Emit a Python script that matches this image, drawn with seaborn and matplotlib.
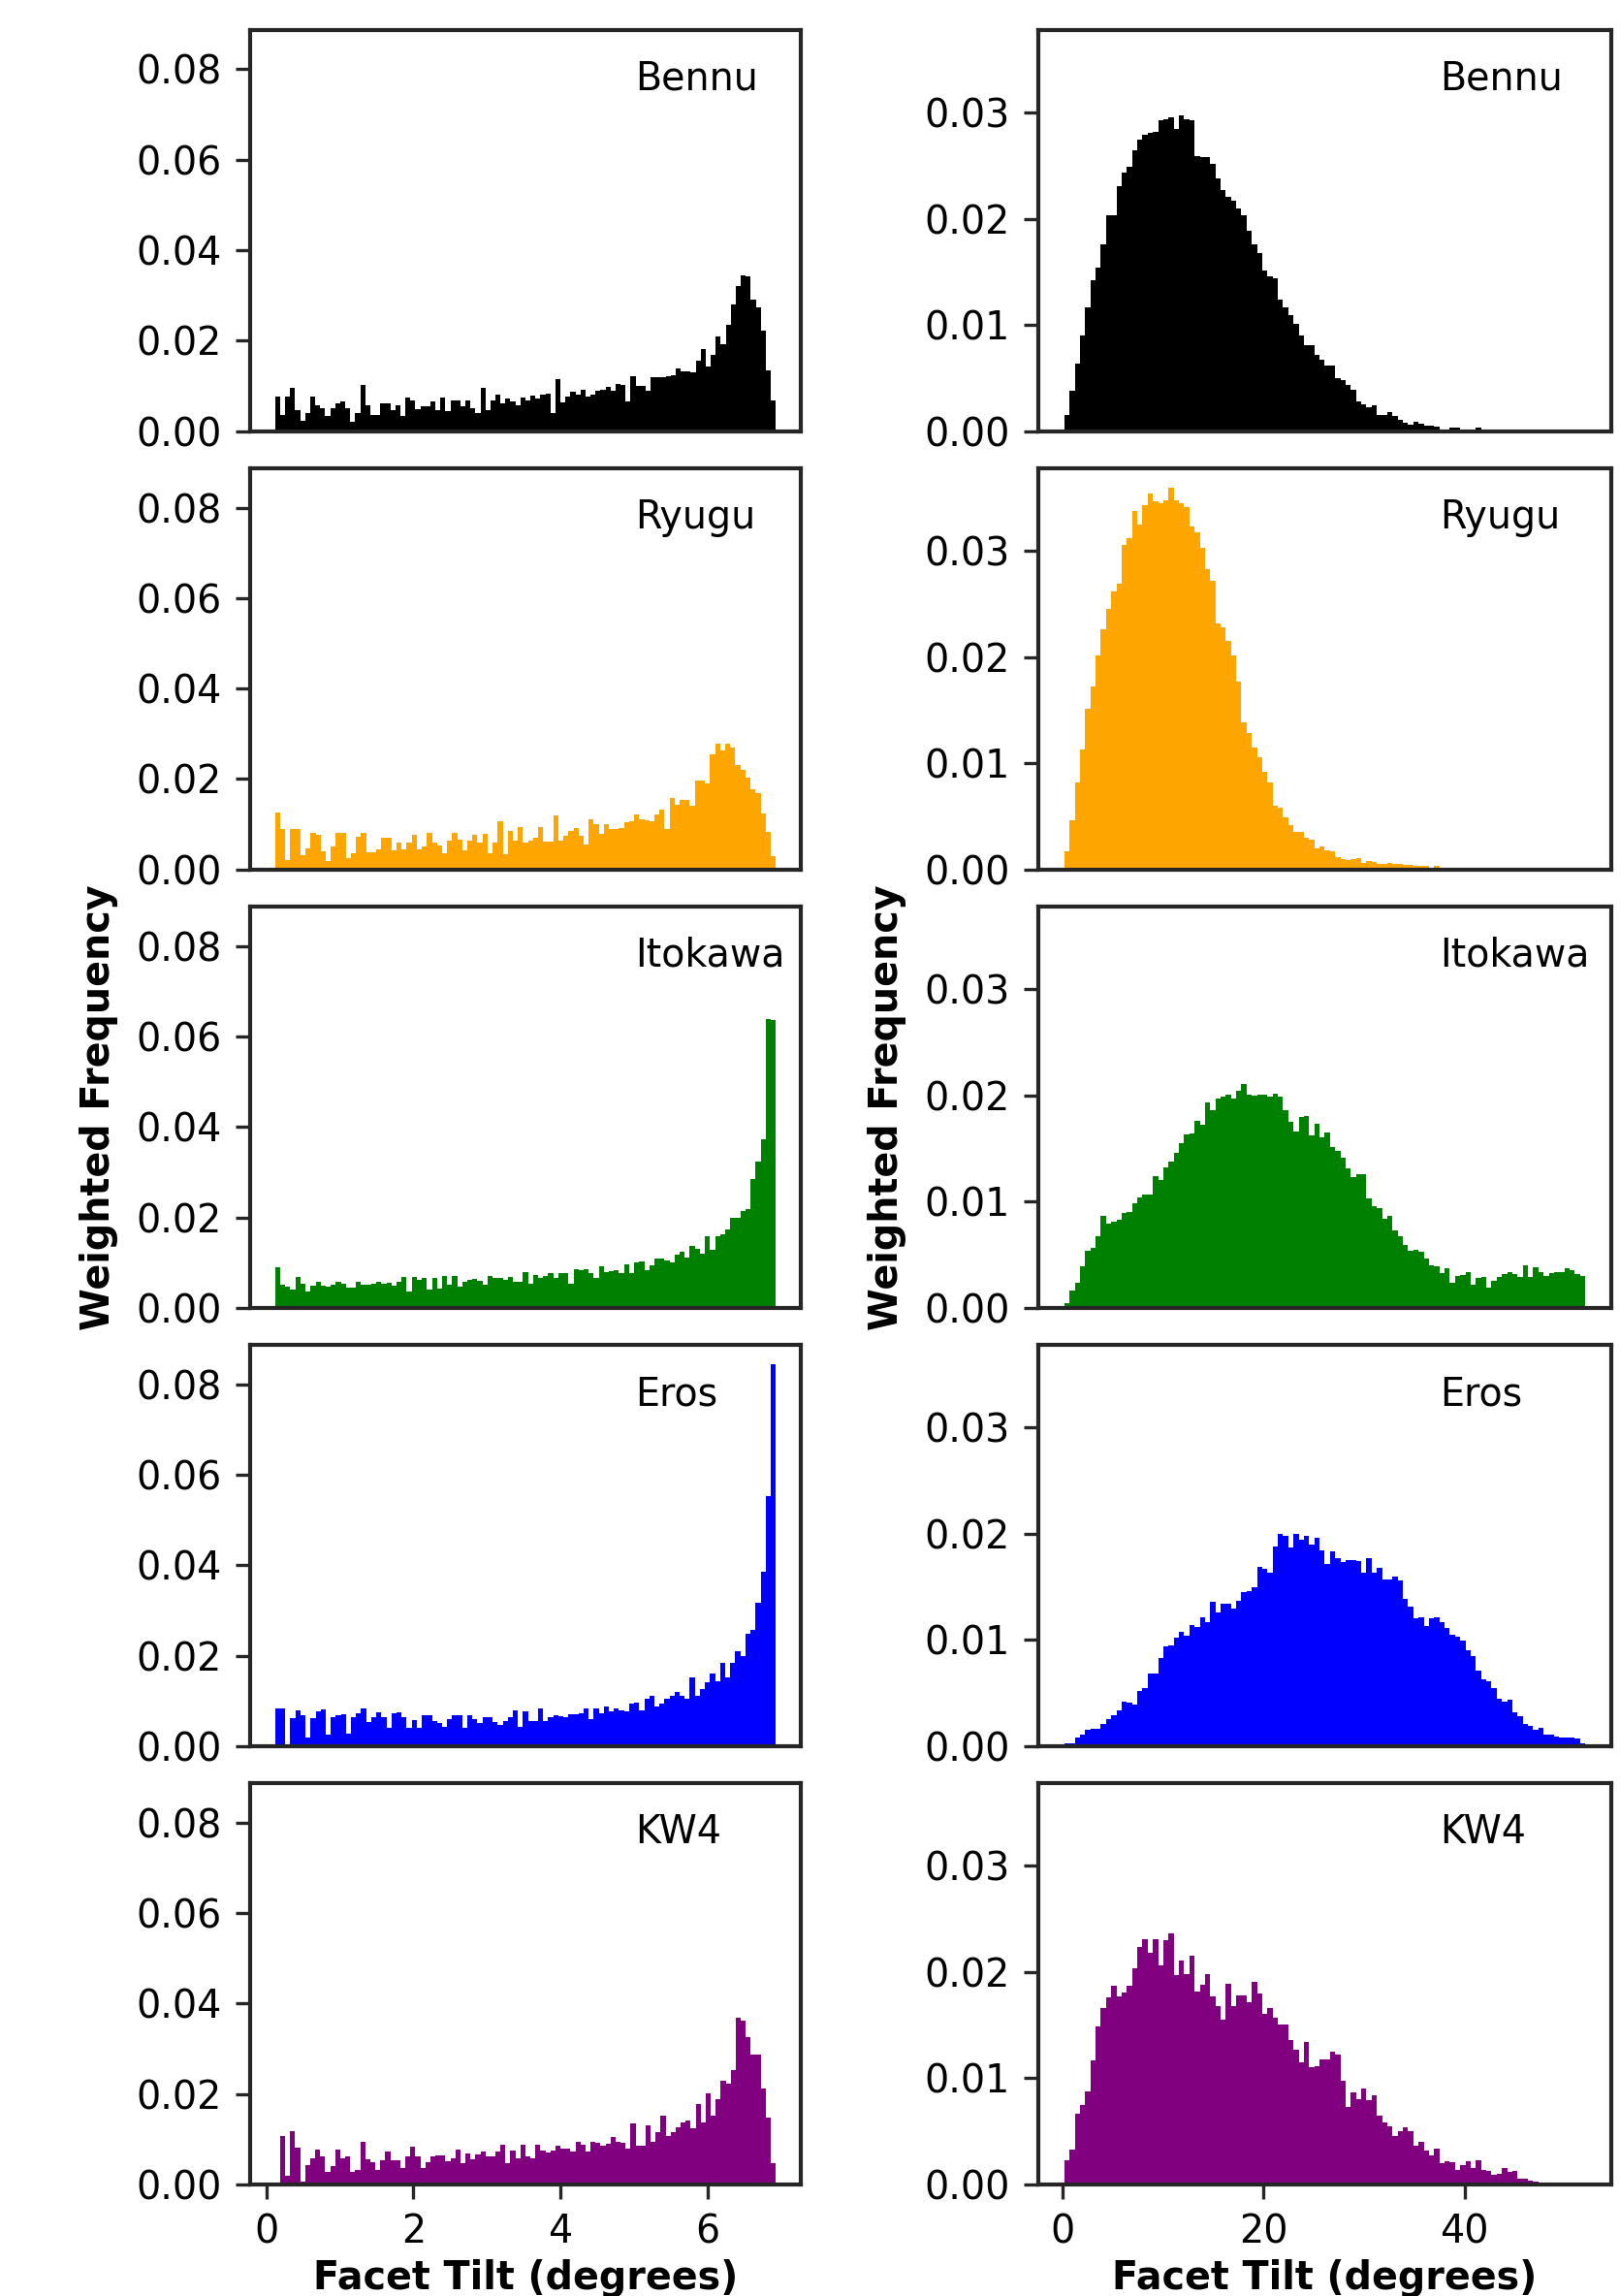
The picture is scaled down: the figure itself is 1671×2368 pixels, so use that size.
import numpy as np
import pandas as pd
import matplotlib
matplotlib.use("Agg")
import matplotlib.pyplot as plt
from matplotlib.ticker import MultipleLocator
import seaborn as sns

# Histogram bin heights, in units of 1e-4 (weighted frequency).
names = ["Bennu", "Ryugu", "Itokawa", "Eros", "KW4"]
colors = ["black", "orange", "green", "blue", "purple"]

# left column, bins spread evenly over the range below (degrees)
left_range = (0.12, 6.93)
bennu_left = [76, 36, 76, 95, 47, 22, 40, 76, 58, 51,
              33, 51, 62, 65, 51, 20, 40, 102, 58, 36,
              36, 62, 62, 47, 58, 33, 75, 69, 49, 55,
              55, 65, 47, 75, 44, 69, 69, 55, 68, 51,
              41, 95, 47, 69, 80, 62, 73, 65, 58, 75,
              69, 78, 73, 80, 84, 40, 116, 63, 76, 87,
              80, 91, 76, 80, 89, 91, 98, 89, 105, 102,
              65, 121, 100, 100, 89, 120, 120, 120, 121, 124,
              138, 133, 133, 131, 156, 182, 142, 169, 209, 193,
              236, 280, 320, 344, 342, 291, 274, 222, 135, 69]
ryugu_left = [126, 89, 21, 89, 89, 32, 47, 81, 76, 41,
              19, 50, 80, 80, 26, 35, 72, 80, 39, 39,
              44, 70, 70, 43, 59, 44, 59, 76, 44, 52,
              81, 59, 54, 35, 64, 81, 67, 42, 64, 76,
              59, 79, 37, 59, 106, 33, 85, 64, 94, 59,
              63, 70, 94, 61, 61, 119, 63, 74, 85, 91,
              74, 56, 111, 101, 78, 101, 89, 89, 91, 104,
              106, 121, 111, 109, 107, 122, 133, 89, 158, 144,
              153, 153, 141, 196, 196, 190, 254, 278, 263, 278,
              269, 232, 220, 204, 178, 168, 124, 84, 30]
itokawa_left = [89, 51, 47, 40, 69, 53, 36, 48, 58, 48,
                47, 51, 58, 54, 45, 45, 58, 51, 51, 53,
                58, 53, 56, 48, 58, 69, 36, 69, 61, 65,
                40, 65, 43, 70, 51, 70, 47, 58, 61, 64,
                60, 51, 70, 67, 65, 61, 69, 58, 58, 79,
                54, 72, 65, 70, 77, 65, 76, 76, 53, 86,
                83, 86, 76, 65, 92, 79, 82, 84, 77, 96,
                77, 101, 103, 83, 94, 108, 108, 105, 101, 118,
                123, 112, 137, 130, 119, 159, 128, 159, 162, 173,
                200, 200, 213, 219, 284, 323, 372, 639, 637]
eros_left = [84, 84, 4, 61, 79, 69, 18, 61, 76, 82,
             25, 65, 69, 70, 27, 65, 72, 83, 54, 65,
             74, 63, 40, 72, 74, 63, 40, 58, 41, 69,
             69, 56, 52, 43, 60, 69, 69, 41, 69, 60,
             51, 63, 63, 54, 47, 56, 65, 79, 43, 76,
             56, 56, 83, 56, 63, 69, 67, 63, 70, 70,
             72, 84, 60, 84, 72, 87, 76, 84, 79, 77,
             94, 96, 79, 105, 112, 87, 94, 105, 112, 119,
             112, 105, 152, 112, 126, 141, 161, 144, 184, 152,
             184, 209, 199, 249, 256, 318, 386, 552, 845]
kw4_left = [0, 107, 19, 117, 81, 6, 42, 57, 78, 61,
            28, 41, 78, 57, 61, 28, 31, 95, 56, 50,
            33, 53, 73, 53, 53, 37, 61, 83, 61, 37,
            50, 63, 64, 64, 51, 57, 78, 48, 68, 56,
            66, 72, 61, 61, 72, 88, 46, 75, 57, 88,
            63, 57, 88, 75, 70, 75, 85, 79, 79, 73,
            94, 88, 73, 95, 92, 85, 90, 105, 95, 92,
            79, 134, 86, 86, 130, 95, 116, 152, 107, 116,
            127, 138, 141, 125, 178, 138, 202, 152, 188, 229,
            222, 253, 368, 361, 325, 286, 286, 212, 147, 46]

# right column
right_range = (0.2, 52.0)
bennu_right = [15, 38, 64, 90, 117, 142, 154, 176, 203, 203,
               231, 244, 249, 265, 275, 279, 281, 282, 293, 294,
               296, 285, 297, 294, 293, 259, 258, 258, 252, 238,
               227, 221, 217, 210, 203, 189, 176, 168, 151, 146,
               144, 124, 117, 109, 101, 90, 81, 81, 72, 67,
               62, 62, 50, 48, 44, 39, 28, 25, 23, 24,
               15, 15, 18, 14, 11, 8, 6, 9, 7, 5,
               5, 4, 2, 2, 3, 3, 2, 2, 2, 3,
               2, 1, 1, 1, 1, 1, 0, 1, 0, 0,
               1, 0, 0, 0, 0, 0, 0, 0, 0, 0]
ryugu_right = [17, 46, 82, 113, 151, 172, 202, 226, 245, 262,
               269, 306, 312, 338, 325, 343, 354, 347, 345, 348,
               360, 348, 345, 341, 323, 318, 303, 283, 272, 232,
               228, 215, 202, 177, 139, 129, 115, 106, 92, 82,
               60, 58, 49, 42, 35, 35, 30, 28, 20, 22,
               18, 17, 12, 10, 9, 10, 11, 6, 8, 7,
               5, 5, 6, 5, 5, 4, 4, 3, 3, 3,
               2, 3, 2, 2, 2, 2, 2, 2, 2, 2,
               2, 2, 2, 2, 2, 2, 2, 1, 2, 2,
               2, 1, 2, 1, 1, 1, 1, 1, 1, 1]
itokawa_right = [4, 16, 24, 39, 54, 56, 67, 87, 79, 81,
                 83, 89, 90, 98, 104, 107, 107, 124, 120, 132,
                 138, 146, 155, 163, 164, 176, 172, 193, 186, 197,
                 199, 201, 197, 204, 211, 201, 200, 201, 201, 199,
                 202, 199, 186, 175, 166, 180, 181, 162, 173, 161,
                 165, 151, 148, 141, 131, 123, 126, 126, 103, 96,
                 94, 84, 87, 73, 67, 59, 54, 55, 53, 46,
                 40, 39, 33, 37, 24, 30, 31, 34, 22, 28,
                 29, 19, 25, 29, 32, 34, 32, 29, 40, 29,
                 38, 34, 30, 33, 34, 34, 37, 35, 32, 30]
eros_right = [3, 3, 8, 11, 15, 16, 16, 21, 25, 29,
              34, 42, 41, 39, 52, 55, 68, 68, 83, 94,
              95, 102, 108, 104, 114, 112, 121, 117, 136, 126,
              134, 134, 130, 137, 145, 146, 150, 169, 167, 163,
              188, 200, 198, 187, 200, 194, 198, 190, 196, 184,
              172, 183, 177, 173, 175, 175, 174, 163, 177, 163,
              168, 157, 157, 160, 156, 139, 131, 120, 121, 113,
              120, 121, 117, 111, 105, 103, 99, 90, 85, 71,
              63, 61, 55, 45, 42, 44, 32, 28, 21, 19,
              15, 17, 11, 11, 9, 8, 8, 8, 7, 3]
kw4_right = [23, 33, 67, 75, 88, 117, 149, 166, 176, 187,
             177, 181, 187, 204, 224, 231, 218, 231, 206, 230,
             236, 197, 211, 198, 215, 182, 188, 198, 177, 168,
             155, 189, 168, 178, 178, 172, 191, 180, 161, 166,
             157, 151, 151, 136, 127, 115, 134, 110, 111, 118,
             118, 125, 122, 98, 73, 87, 80, 90, 79, 84,
             65, 58, 55, 46, 50, 54, 50, 36, 40, 32,
             27, 34, 20, 22, 21, 14, 18, 22, 15, 23,
             14, 13, 9, 10, 15, 12, 13, 5, 5, 4,
             3, 2, 1, 1, 2, 2, 1, 1, 1, 2]

left_series = [bennu_left, ryugu_left, itokawa_left, eros_left, kw4_left]
right_series = [bennu_right, ryugu_right, itokawa_right, eros_right, kw4_right]

sns.set_style("ticks")
plt.rcParams["font.family"] = ["DejaVu Sans"]
plt.rcParams["font.size"] = 9.5
plt.rcParams["axes.linewidth"] = 1.0
plt.rcParams["text.color"] = "black"
plt.rcParams["axes.labelcolor"] = "black"
plt.rcParams["xtick.labelcolor"] = "black"
plt.rcParams["ytick.labelcolor"] = "black"

fig = plt.figure(figsize=(1671 / 300, 2368 / 300), dpi=300)

# axes boxes (figure fractions) for the two columns, five rows
col_boxes = [(0.1544, 0.3399), (0.6409, 0.3537)]
row_h = 0.1748
row_step = 0.1909
y_steps = [0.02, 0.01]
x_steps = [2, 20]
label_x = [-0.24, -0.23]

for c, (series, rng) in enumerate([(left_series, left_range), (right_series, right_range)]):
    x0, w = col_boxes[c]
    first = None
    for r in range(5):
        ax = fig.add_axes([x0, 0.0486 + (4 - r) * row_step, w, row_h],
                          sharex=first, sharey=first)
        if first is None:
            first = ax
        n = len(series[r])
        # one row per bin: bin centre and its weight
        step = (rng[1] - rng[0]) / n
        df = pd.DataFrame({
            "tilt": rng[0] + step * (np.arange(n) + 0.5),
            "w": np.array(series[r]) * 1e-4,
        })
        sns.histplot(data=df, x="tilt", weights="w", bins=n, binrange=rng,
                     color=colors[r], alpha=1, linewidth=0, ax=ax)
        ax.text(0.70, 0.85, names[r], transform=ax.transAxes, fontsize=9.5)
        ax.yaxis.set_major_locator(MultipleLocator(y_steps[c]))
        ax.xaxis.set_major_locator(MultipleLocator(x_steps[c]))
        ax.set_ylabel("")
        ax.set_xlabel("")
        if r == 2:
            ax.set_ylabel("Weighted Frequency", fontweight="bold")
            ax.yaxis.set_label_coords(label_x[c], 0.5)
        if r < 4:
            ax.tick_params(axis="x", bottom=False, labelbottom=False)
        else:
            ax.set_xlabel("Facet Tilt (degrees)", fontweight="bold", labelpad=2)

fig.savefig("out.png", dpi=300)
